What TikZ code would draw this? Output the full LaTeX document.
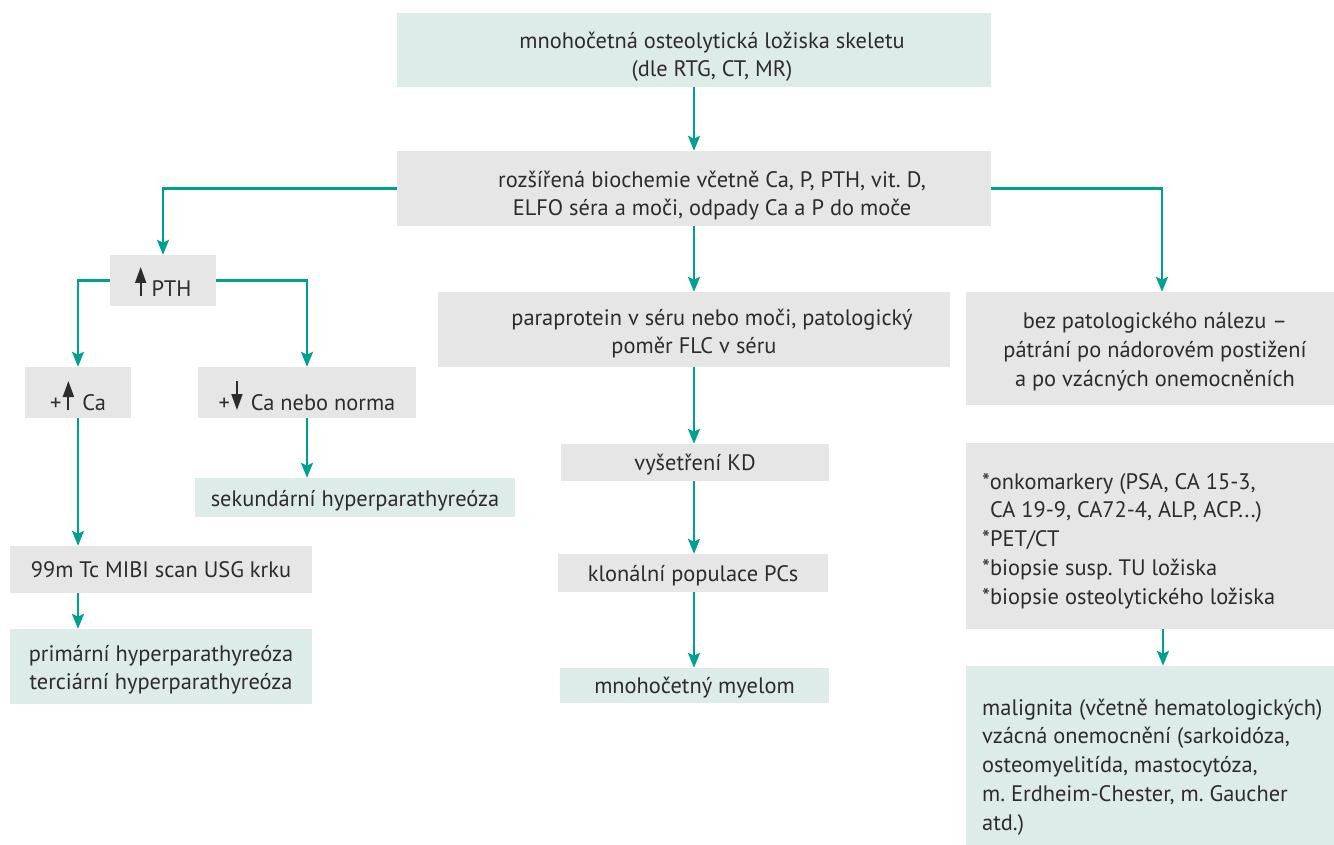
\documentclass[tikz,border=0pt]{standalone}
\usepackage{fontspec}
\setmainfont{PT Sans}
\usetikzlibrary{arrows.meta}
\definecolor{tealline}{RGB}{0,160,143}
\definecolor{boxgray}{RGB}{230,230,230}
\definecolor{boxteal}{RGB}{221,236,232}
\definecolor{txt}{RGB}{45,43,43}
\newcommand\upar{\tikz[baseline=0pt]{\path (-6pt,0pt) rectangle (6pt,29pt); \draw[line width=1.9pt,-{Triangle[length=16pt,width=11pt]}] (0pt,0pt) -- (0pt,29pt);}}
\newcommand\downar{\tikz[baseline=0pt]{\path (-6pt,0pt) rectangle (6pt,29pt); \draw[line width=1.9pt,-{Triangle[length=16pt,width=11pt]}] (0pt,29pt) -- (0pt,0pt);}}
\newcommand\mybox[8]{%
  \node[#1, minimum width={#5-#3}, minimum height={#6-#4}] (#2) at ({(#3+#5)/2},{(#4+#6)/2}) {};
  \node[txtc, #7] (#2t) at (#2.center) {#8};}
\frenchspacing
\begin{document}
\begin{tikzpicture}[x=1pt,y=-1pt,
 base/.style={inner sep=0pt},
 gbox/.style={base, fill=boxgray},
 tbox/.style={base, fill=boxteal},
 txtc/.style={inner sep=0pt, font=\fontsize{22.4}{28.5}\selectfont, text=txt, align=center},
 txtl/.style={anchor=west, align=left, font=\fontsize{22.4}{28.75}\selectfont},
 conn/.style={draw=tealline, line width=2.5pt, -{Stealth[length=15pt,width=12pt,inset=3pt]}},
]
\useasboundingbox (0,0) rectangle (1334,845);
\mybox{tbox}{top}{397}{13}{991}{87}{xshift=18pt,yshift=-7pt}{mnohočetná osteolytická ložiska skeletu\\(dle RTG, CT, MR)}
\mybox{gbox}{bio}{397}{151}{991}{226}{xshift=18pt,yshift=-7pt}{rozšířená biochemie včetně Ca, P, PTH, vit. D,\\ELFO séra a moči, odpady Ca a P do moče}
\mybox{gbox}{pth}{110}{255}{216}{306}{yshift=-1pt}{\upar\hspace{5pt}PTH}
\mybox{gbox}{cahi}{25}{367}{131}{418}{yshift=-3pt}{+\hspace{1pt}\upar\hspace{8pt}Ca}
\mybox{gbox}{calo}{198}{367}{416}{418}{yshift=-3pt}{+\hspace{1pt}\downar\hspace{8pt}Ca nebo norma}
\mybox{tbox}{sek}{195}{478}{515}{517}{yshift=-3pt}{sekundární hyperparathyreóza}
\mybox{gbox}{mibi}{10}{546}{312}{593}{yshift=0pt}{99m Tc MIBI scan USG krku}
\mybox{tbox}{prim}{10}{629}{312}{704}{yshift=-3pt}{primární hyperparathyreóza\\terciární hyperparathyreóza}
\mybox{gbox}{para}{438}{292}{950}{367}{yshift=-4pt}{\hspace*{36pt}paraprotein v séru nebo moči, patologický\\poměr FLC v séru}
\mybox{gbox}{kd}{561}{444}{829}{481}{yshift=-2pt}{vyšetření KD}
\mybox{gbox}{klon}{558}{554}{828}{592}{yshift=-3pt}{klonální populace PCs}
\mybox{tbox}{myel}{560}{668}{829}{703}{yshift=-2pt}{mnohočetný myelom}
\mybox{gbox}{bez}{966}{292}{1334}{405}{xshift=5pt,yshift=-3pt,font=\fontsize{22.4}{29}\selectfont}{bez patologického nálezu –\\pátrání po nádorovém postižení\\a po vzácných onemocněních}
\mybox{gbox}{onko}{966}{443}{1334}{629}{txtl,xshift=-168pt,yshift=-5pt}{*onkomarkery (PSA, CA 15-3,\\\hspace*{8pt}CA 19-9, CA72-4, ALP, ACP...)\\{*}PET/CT\\{*}biopsie susp. TU ložiska\\{*}biopsie osteolytického ložiska}
\mybox{tbox}{mal}{966}{666}{1334}{850}{txtl,xshift=-168pt,yshift=-9pt}{malignita (včetně hematologických)\\vzácná onemocnění (sarkoidóza,\\osteomyelitída, mastocytóza,\\m. Erdheim-Chester, m. Gaucher\\atd.)}
\draw[conn] (top.south) -- (bio.north);
\draw[conn] (bio.west) -| (pth.north);
\draw[conn] (bio.east) -| ([xshift=12pt]bez.north);
\draw[conn] (bio.south) -- (bio.south |- para.north);
\draw[conn] (pth.west) -| (cahi.north);
\draw[conn] (pth.east) -| (calo.north);
\draw[conn] (calo.south) -- (calo.south |- sek.north);
\draw[conn] (cahi.south) -- (cahi.south |- mibi.north);
\draw[conn] (cahi.south |- mibi.south) -- (cahi.south |- prim.north);
\draw[conn] (para.south) -- (para.south |- kd.north);
\draw[conn] (para.south |- kd.south) -- (para.south |- klon.north);
\draw[conn] (para.south |- klon.south) -- (para.south |- myel.north);
\draw[conn] ([xshift=13pt]onko.south) -- ([xshift=13pt]mal.north);
\end{tikzpicture}
\end{document}
